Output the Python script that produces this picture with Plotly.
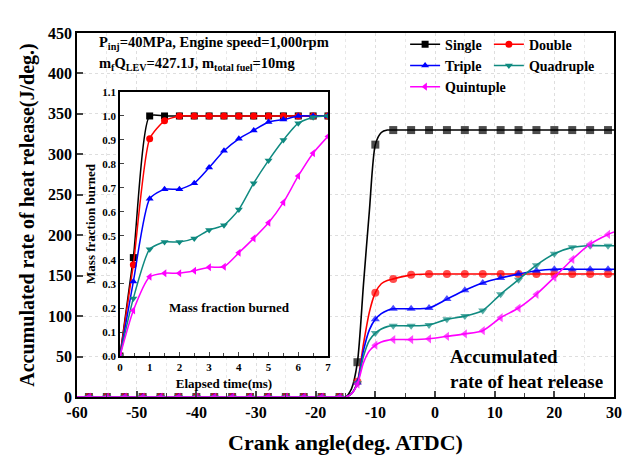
import plotly.graph_objects as go

# Crank angle (deg. ATDC); markers every 3 deg, extra points shape the rise
crank = [-60, -58, -55, -52, -49, -46, -43, -40, -37, -34, -31, -28, -25, -22, -19, -16,
         -15, -14, -13, -12, -11, -10, -9, -8, -7, -4, -1, 2, 5, 8, 11, 14, 17, 20, 23, 26, 29, 30]
marker_angles = [-58 + 3 * k for k in range(30)]

flat = [0] * 16
arhr_single = flat + [0, 10, 43, 138, 230, 312, 327, 330, 330, 330, 330, 330, 330, 330, 330, 330, 330, 330, 330, 330, 330, 330]
arhr_double = flat + [0, 4, 19, 65, 105, 129, 140, 144, 146, 151, 152, 152, 152, 152, 152, 152, 152, 152, 152, 152, 152, 152]
arhr_triple = flat + [0, 4, 18, 57, 83, 96, 103, 107, 109, 109, 110, 121, 132, 141, 147, 152, 156, 158, 158, 158, 158, 158]
arhr_quadruple = flat + [0, 4, 17, 50, 70, 79, 84, 87, 88, 88, 89, 96, 100, 107, 127, 145, 163, 177, 185, 187, 187, 187]
arhr_quintuple = flat + [0, 4, 16, 42, 57, 64, 68, 70, 71, 71, 72, 75, 78, 82, 98, 110, 127, 148, 170, 189, 201, 204]

x_ticks = [-60, -50, -40, -30, -20, -10, 0, 10, 20, 30]
x_ticktext = ["-60", "-50", "-40", "-30", "-20", "-10", "0", "10", "20", "30"]

# Mass fraction burned vs elapsed time (ms)
t_ms = [0, 0.45, 1.0, 1.5, 2.0, 2.5, 3.0, 3.5, 4.0, 4.5, 5.0, 5.5, 6.0, 6.5, 7.0]
mfb_single = [0, 0.41, 1.0, 1.0, 1.0, 1.0, 1.0, 1.0, 1.0, 1.0, 1.0, 1.0, 1.0, 1.0, 1.0]
mfb_double = [0, 0.38, 0.905, 0.98, 1.0, 1.0, 1.0, 1.0, 1.0, 1.0, 1.0, 1.0, 1.0, 1.0, 1.0]
mfb_triple = [0, 0.31, 0.655, 0.695, 0.695, 0.72, 0.785, 0.855, 0.905, 0.94, 0.975, 0.985, 1.0, 1.0, 1.0]
mfb_quadruple = [0, 0.24, 0.445, 0.475, 0.475, 0.49, 0.525, 0.545, 0.61, 0.72, 0.815, 0.9, 0.97, 0.995, 1.0]
mfb_quintuple = [0, 0.19, 0.33, 0.345, 0.345, 0.355, 0.37, 0.372, 0.43, 0.49, 0.555, 0.64, 0.75, 0.845, 0.915]

names = ["Single", "Double", "Triple", "Quadruple", "Quintuple"]
colors = ["#000000", "#ff0000", "#0000ff", "#0f8a80", "#ff00ff"]
symbols = ["square", "circle", "triangle-up", "triangle-down", "triangle-left"]
legends = ["legend", "legend2", "legend", "legend2", "legend"]
arhr = [arhr_single, arhr_double, arhr_triple, arhr_quadruple, arhr_quintuple]
mfb = [mfb_single, mfb_double, mfb_triple, mfb_quadruple, mfb_quintuple]

SERIF = "Liberation Serif"
sizes = [8 if a in marker_angles else 0 for a in crank]

fig = go.Figure()
for n, c, s, y in zip(names, colors, symbols, arhr):
    fig.add_trace(go.Scatter(
        x=crank, y=y, mode="lines+markers", name=n, showlegend=False,
        line=dict(color=c, width=1.6, shape="spline", smoothing=0.7),
        marker=dict(color=c, symbol=s, size=sizes, line=dict(width=0)),
        xaxis="x", yaxis="y"))

for n, c, s, y, lg in zip(names, colors, symbols, mfb, legends):
    fig.add_trace(go.Scatter(
        x=t_ms, y=y, mode="lines+markers", name=n, legend=lg,
        line=dict(color=c, width=1.5, shape="spline", smoothing=0.6),
        marker=dict(color=c, symbol=s, size=7, line=dict(width=0)),
        xaxis="x2", yaxis="y2"))

bold = dict(family=SERIF, color="black", weight="bold")
grid = dict(showgrid=True, gridcolor="#dedede", griddash="dot", gridwidth=1)

fig.update_layout(
    width=630, height=461,
    margin=dict(l=77, r=16, t=33, b=64),
    paper_bgcolor="white", plot_bgcolor="white",
    font=dict(family=SERIF, color="black"),
    xaxis=dict(
        range=[-60, 30], tickvals=x_ticks, ticktext=x_ticktext, automargin=False,
        ticks="inside", ticklen=6, tickwidth=1.5,
        minor=dict(dtick=5, ticks="inside", ticklen=4, tickwidth=1.2, showgrid=True,
                   gridcolor="#e8e8e8", griddash="dot"),
        showline=True, linecolor="black", linewidth=1.8, mirror=True,
        tickfont=dict(size=16, **bold), zeroline=False,
        title=dict(text="Crank angle(deg. ATDC)", font=dict(size=22, **bold), standoff=15),
        **grid),
    yaxis=dict(
        range=[0, 450], dtick=50, ticks="inside", ticklen=6, tickwidth=1.5, automargin=False,
        showline=True, linecolor="black", linewidth=1.8, mirror=True,
        tickfont=dict(size=16, **bold), zeroline=False,
        title=dict(text="Accumulated rate of heat release(J/deg.)", font=dict(size=20, **bold), standoff=8),
        **grid),
    xaxis2=dict(
        domain=[0.080, 0.4674], anchor="y2", range=[0, 7], dtick=1, automargin=False,
        ticks="inside", ticklen=4, tickwidth=1.2,
        minor=dict(dtick=0.5, ticks="inside", ticklen=3),
        showline=True, linecolor="black", linewidth=1.5, mirror=True,
        showgrid=False, zeroline=False,
        tickfont=dict(size=11, **bold),
        title=dict(text="Elapsed time(ms)", font=dict(size=13, **bold), standoff=7)),
    yaxis2=dict(
        domain=[0.1126, 0.838], anchor="x2", range=[0, 1.1], dtick=0.1, tickformat=".1f",
        ticks="inside", ticklen=4, tickwidth=1.2, automargin=False,
        showline=True, linecolor="black", linewidth=1.5, mirror=True,
        showgrid=False, zeroline=False,
        tickfont=dict(size=11, **bold),
        title=dict(text="Mass fraction burned", font=dict(size=13, **bold), standoff=4)),
    legend=dict(x=0.611, y=1.012, xanchor="left", yanchor="top",
                bgcolor="rgba(0,0,0,0)", font=dict(size=14, **bold),
                tracegroupgap=0, itemwidth=30),
    legend2=dict(x=0.767, y=1.012, xanchor="left", yanchor="top",
                 bgcolor="rgba(0,0,0,0)", font=dict(size=14, **bold),
                 tracegroupgap=0, itemwidth=30),
)

fig.add_annotation(xref="paper", yref="paper", x=0.038, y=0.973, xanchor="left", yanchor="middle",
                   text="P<sub>inj</sub>=40MPa, Engine speed=1,000rpm", showarrow=False,
                   font=dict(size=14.5, **bold))
fig.add_annotation(xref="paper", yref="paper", x=0.038, y=0.915, xanchor="left", yanchor="middle",
                   text="m<sub>f</sub>Q<sub>LEV</sub>=427.1J, m<sub>total fuel</sub>=10mg", showarrow=False,
                   font=dict(size=14.5, **bold))
fig.add_annotation(xref="x2", yref="y2", x=3.67, y=0.204, text="Mass fraction burned",
                   showarrow=False, font=dict(size=13, **bold))
fig.add_annotation(xref="paper", yref="paper", x=0.69, y=0.078, xanchor="left", yanchor="middle",
                   align="left", text="Accumulated<br>rate of heat release", showarrow=False,
                   font=dict(size=19, **bold))

fig.write_html("out.html")
